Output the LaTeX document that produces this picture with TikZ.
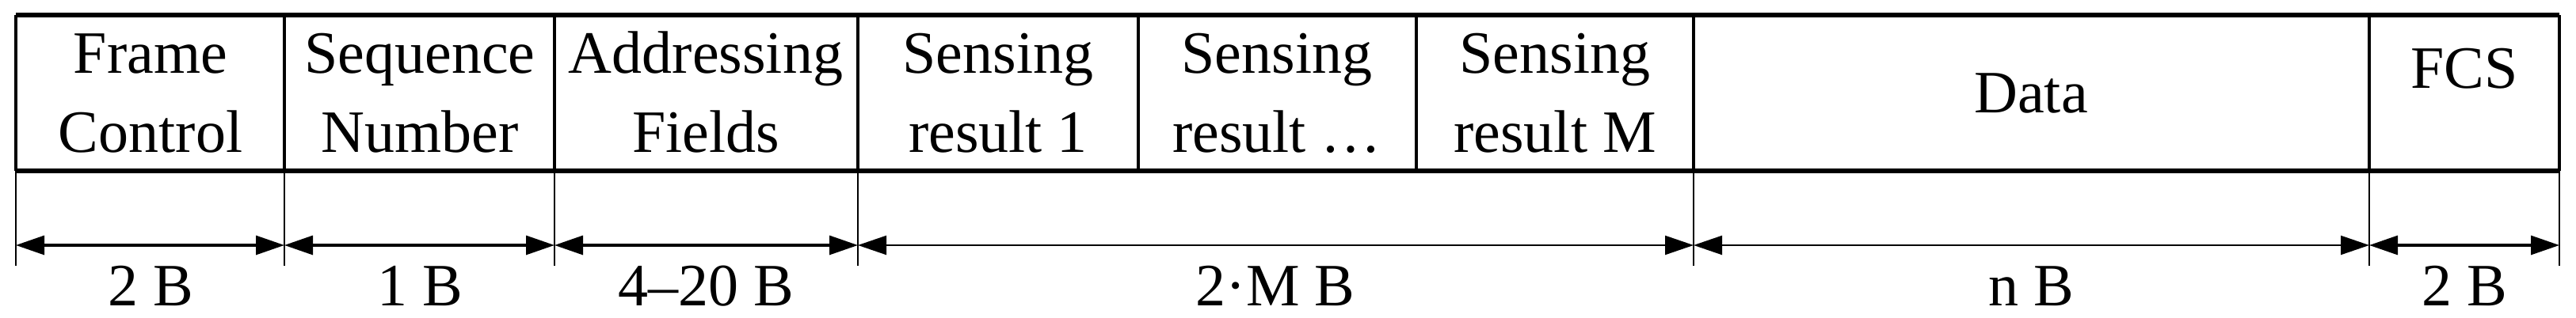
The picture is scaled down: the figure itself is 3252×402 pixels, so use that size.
\documentclass[tikz,border=0pt]{standalone}
\usepackage{fontspec}
\setmainfont{Liberation Serif}
\usetikzlibrary{arrows.meta}
\begin{document}
\begin{tikzpicture}[x=0.25pt,y=-0.25pt,
  txt/.style={font=\fontsize{19}{25}\selectfont, align=center, inner sep=0pt},
  hrule/.style={line width=1.5pt},
  vrule/.style={line width=1pt},
  tickline/.style={line width=0.45pt},
  dimarrow/.style={{Triangle[length=9pt,width=6pt]}-{Triangle[length=9pt,width=6pt]}, line width=0.8pt},
  dimthin/.style={dimarrow, line width=0.55pt},
]
\useasboundingbox (0,0) rectangle (3252,402);
\foreach \x/\n in {20/a,359/b,700/c,1083/d,1437/e,1788/f,2138/g,2991/h,3231/i}{
  \coordinate (t\n) at (\x,19);
  \coordinate (b\n) at (\x,216);
  \coordinate (m\n) at (\x,310);
  \coordinate (k\n) at (\x,336);
}
% frame
\foreach \n in {a,b,c,d,e,f,g,h,i}{ \draw[vrule] (t\n) -- (b\n); }
\draw[hrule] (ta) -- (ti);
\draw[hrule] (ba) -- (bi);
% ticks
\foreach \n in {a,b,c,d,g,h,i}{ \draw[tickline] (b\n) -- (k\n); }
% dimension arrows
\draw[dimarrow] (ma) -- (mb);
\draw[dimarrow] (mb) -- (mc);
\draw[dimarrow] (mc) -- (md);
\draw[dimthin] (md) -- (mg);
\draw[dimthin] (mg) -- (mh);
\draw[dimarrow] (mh) -- (mi);
% field texts
\node[txt] (fc) at (190,123) {\strut Frame\\\strut Control};
\node[txt] (sn) at (530,123) {\strut Sequence\\\strut Number};
\node[txt] (af) at (891,123) {\strut Addressing\\\strut Fields};
\node[txt] (s1) at (1260,123) {\strut Sensing\\\strut result 1};
\node[txt] (s2) at (1612,123) {\strut Sensing\\\strut result \dots};
\node[txt] (sm) at (1963,123) {\strut Sensing\\\strut result M};
\node[txt] (da) at (2564,123) {\strut Data};
\node[txt] (fcs) at (3111,92) {\strut FCS};
% length labels
\node[txt, anchor=base] (l1) at (190,387) {2 B};
\node[txt, anchor=base] (l2) at (530,387) {1 B};
\node[txt, anchor=base] (l3) at (891,387) {4–20 B};
\node[txt, anchor=base] (l4) at (1610,387) {2·M B};
\node[txt, anchor=base] (l5) at (2564,387) {n B};
\node[txt, anchor=base] (l6) at (3111,387) {2 B};
\end{tikzpicture}
\end{document}
